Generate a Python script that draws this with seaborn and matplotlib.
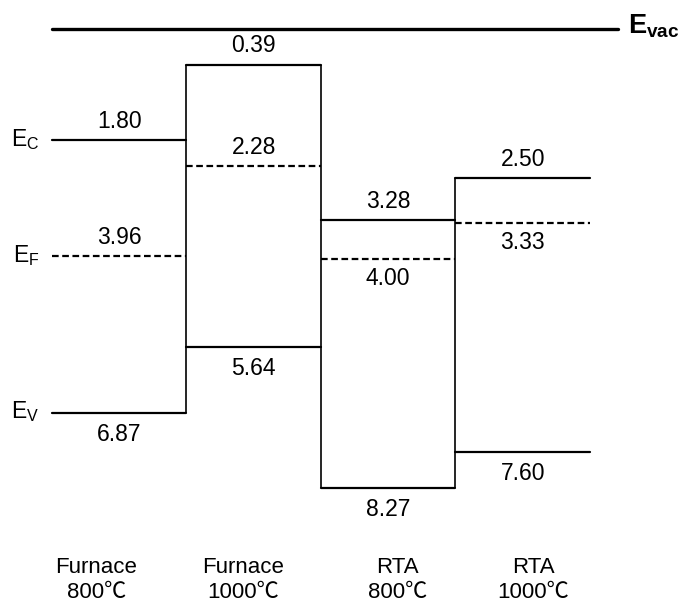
import matplotlib
matplotlib.use("Agg")
import matplotlib.pyplot as plt
import numpy as np
import pandas as pd
import seaborn as sns

# band levels below the vacuum level (eV)
samples = ["Furnace\n800℃", "Furnace\n1000℃", "RTA\n800℃", "RTA\n1000℃"]
ec = [1.80, 0.39, 3.28, 2.50]
ef = [3.96, 2.28, 4.00, 3.33]
ev = [6.87, 5.64, 8.27, 7.60]
ef_side = ["above", "above", "below", "below"]
level_names = ["C", "F", "V"]

sns.set_theme(style="white")
plt.rcParams['font.family'] = ['Liberation Sans', 'Noto Sans CJK SC', 'DejaVu Sans']
plt.rcParams['text.color'] = 'black'
plt.rcParams['mathtext.fontset'] = 'custom'
plt.rcParams['mathtext.rm'] = 'Liberation Sans'
plt.rcParams['mathtext.bf'] = 'Liberation Sans:bold'

# layout (pixels): left edge of first column, column width,
# pixel row of 0 eV and px per eV (the sketch is only roughly to scale)
x0_px, col_px, zero_px, ev_px = 52, 134.5, 43.7, 53.7
vac_row = 29
W, H = 683, 602

fig = plt.figure(figsize=(W / 100, H / 100), dpi=100)
ax = fig.add_axes([0, 0, 1, 1])

# long-form table of level segments
rows = []
for i in range(len(samples)):
    for kind, vals in [("Ec", ec), ("EF", ef), ("Ev", ev)]:
        style = "dashed" if kind == "EF" else "solid"
        for x in (i, i + 1):
            rows.append({"seg": f"{i}-{kind}", "x": x, "E": vals[i], "style": style})
df = pd.DataFrame(rows)

sns.lineplot(data=df, x="x", y="E", units="seg", estimator=None, style="style",
             dashes={"solid": "", "dashed": (3, 1.6)}, color="black", lw=1.6,
             sort=False, legend=False, ax=ax)

# vertical steps between neighbouring samples
for i in range(len(samples) - 1):
    top = min(ec[i], ec[i + 1])
    bot = max(ev[i], ev[i + 1])
    ax.vlines(i + 1, top, bot, color="black", lw=1.2)

# vacuum level drawn as the reference line across the top
vac_y = 1 - vac_row / H
ax.plot([0, 4.21], [vac_y, vac_y], color="black", lw=2.4, transform=ax.get_xaxis_transform())
ax.text(4.28, vac_y - 0.007, r"$\mathbf{E_{vac}}$", fontsize=19.5, ha="left", va="baseline",
        transform=ax.get_xaxis_transform())

# value labels
for i in range(len(samples)):
    ax.annotate(f"{ec[i]:.2f}", (i + 0.5, ec[i]), xytext=(0, 13.5), textcoords="offset points",
                ha="center", va="center", fontsize=16.5)
    dy = 13.5 if ef_side[i] == "above" else -14.5
    ax.annotate(f"{ef[i]:.2f}", (i + 0.5, ef[i]), xytext=(0, dy), textcoords="offset points",
                ha="center", va="center", fontsize=16.5)
    ax.annotate(f"{ev[i]:.2f}", (i + 0.5, ev[i]), xytext=(0, -15.5), textcoords="offset points",
                ha="center", va="center", fontsize=16.5)

# level names on the left
for name, val in zip(level_names, [ec[0], ef[0], ev[0]]):
    ax.annotate(rf"$\mathrm{{E_{{{name}}}}}$", (0, val), xytext=(-9, -4), textcoords="offset points",
                ha="right", va="baseline", fontsize=16.5)

# sample names
shifts = [-0.17, -0.08, 0.07, 0.08]
for i, (lab, s) in enumerate(zip(samples, shifts)):
    ax.text(i + 0.5 + s, 1 - 580 / H, lab, ha="center", va="center", fontsize=16,
            linespacing=1.25, transform=ax.get_xaxis_transform())

ax.set_xlim(-x0_px / col_px, (W - x0_px) / col_px)
ax.set_ylim((H - zero_px) / ev_px, -zero_px / ev_px)
ax.axis("off")

fig.savefig("out.png", dpi=100, facecolor="white")
